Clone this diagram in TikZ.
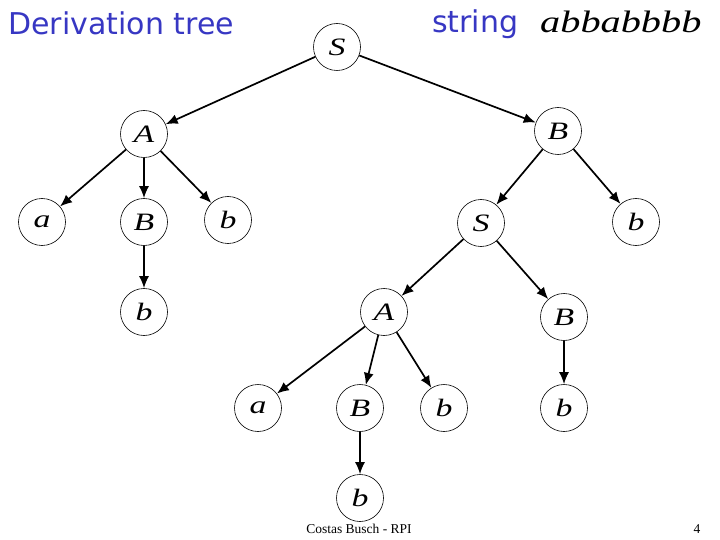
\documentclass[tikz,border=0pt]{standalone}
\usepackage{fontspec}
\setmainfont{Liberation Serif}
\newfontfamily\titlefont{DejaVu Sans}
\usetikzlibrary{arrows.meta}
\definecolor{titleblue}{RGB}{55,55,195}
\newcommand{\wideletter}[1]{\scalebox{1.35}[1]{#1}}
\begin{document}
\begin{tikzpicture}[x=1pt,y=-1pt,
  tn/.style={circle,draw,line width=0.6pt,minimum size=47pt,inner sep=0pt,
    font=\fontsize{25}{30}\selectfont\itshape},
  ar/.style={line width=1.7pt,-{Latex[length=12pt,width=10pt]}},
  ttl/.style={font=\titlefont\fontsize{30}{34}\selectfont,text=titleblue,inner sep=0pt}]
\useasboundingbox (0,0) rectangle (720,540);
% nodes
\node[tn] (S1) at (337,47) {\wideletter{S}};
\node[tn] (A1) at (144,134) {\wideletter{A}};
\node[tn] (a1) at (42,222) {\wideletter{a}};
\node[tn] (B1) at (144,222) {\wideletter{B}};
\node[tn] (b1) at (228,220) {\wideletter{b}};
\node[tn] (b2) at (144,312) {\wideletter{b}};
\node[tn] (B2) at (558,131) {\wideletter{B}};
\node[tn] (S2) at (481,223) {\wideletter{S}};
\node[tn] (b3) at (636,222) {\wideletter{b}};
\node[tn] (A2) at (384,312) {\wideletter{A}};
\node[tn] (B3) at (564,317) {\wideletter{B}};
\node[tn] (a2) at (258,408) {\wideletter{a}};
\node[tn] (B4) at (360,408) {\wideletter{B}};
\node[tn] (b4) at (444,408) {\wideletter{b}};
\node[tn] (b5) at (564,408) {\wideletter{b}};
\node[tn] (b6) at (360,498) {\wideletter{b}};
% edges
\draw[ar] (S1) -- (A1);
\draw[ar] (S1) -- (B2);
\draw[ar] (A1) -- (a1);
\draw[ar] (A1) -- (B1);
\draw[ar] (A1) -- (b1);
\draw[ar] (B1) -- (b2);
\draw[ar] (B2) -- (S2);
\draw[ar] (B2) -- (b3);
\draw[ar] (S2) -- (A2);
\draw[ar] (S2) -- (B3);
\draw[ar] (A2) -- (a2);
\draw[ar] (A2) -- (B4);
\draw[ar] (A2) -- (b4);
\draw[ar] (B3) -- (b5);
\draw[ar] (B4) -- (b6);
% texts
\node[ttl,anchor=base west] (title) at (8,35) {Derivation tree};
\node[ttl,anchor=base west] (str) at (432,33) {string};
\node[anchor=base west,inner sep=0pt,font=\fontsize{31}{34}\selectfont\itshape] (word) at (540,33) {\scalebox{1.3}[1]{abbabbbb}};
\node[anchor=base,inner sep=0pt,font=\fontsize{13.5}{15}\selectfont] (foot) at (359,533) {Costas Busch - RPI};
\node[anchor=base,inner sep=0pt,font=\fontsize{13.5}{15}\selectfont] (pg) at (697,533) {4};
\end{tikzpicture}
\end{document}
